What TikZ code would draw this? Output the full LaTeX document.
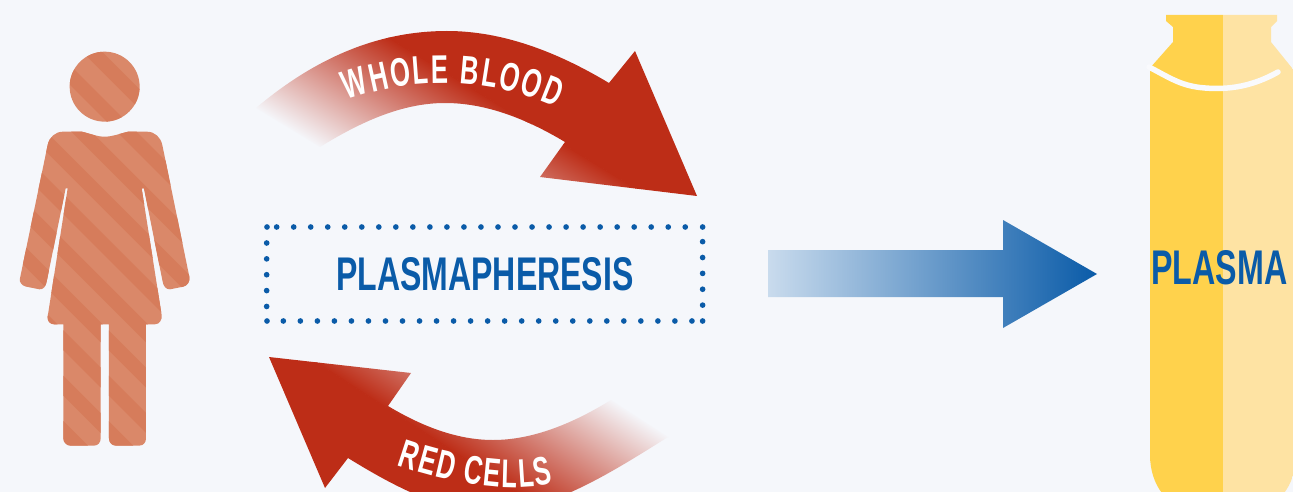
\documentclass[tikz,border=0pt]{standalone}
\usepackage{fontspec}
\usetikzlibrary{decorations.text}
\setmainfont{Liberation Sans}
\newfontfamily\condfont[FakeStretch=0.64]{Liberation Sans}
\definecolor{bgc}{HTML}{F5F7FB}
\definecolor{arrowred}{HTML}{BD2D17}
\definecolor{bluetxt}{HTML}{0A5BA8}
\definecolor{bluepale}{HTML}{C9DBED}
\definecolor{skinlight}{HTML}{DA8869}
\definecolor{skindark}{HTML}{D67C5B}
\definecolor{viald}{HTML}{FFD24C}
\definecolor{viall}{HTML}{FEE3A3}
\newcommand\toppath{(256,108) .. controls (320,54) and (383,31) .. (447,31) .. controls (501,31) and (555,50.6) .. (609,83) -- (635,51) -- (697,196) -- (540,177) -- (565,142) .. controls (525,118) and (485,103) .. (445,103) .. controls (403,103) and (362,121) .. (320,147) -- cycle}
\newcommand\botpath{(269,357) -- (411,373) -- (388,406) .. controls (423,427) and (458,440) .. (493,440) .. controls (532,440) and (572,424) .. (611,400) -- (668,437) .. controls (609,474) and (549,512) .. (490,512) .. controls (443,512) and (395,487) .. (348,458) -- (325,488) -- cycle}
\newcommand\personpath{(190,305) -- (245,305) .. controls (275,312) and (290,320) .. (314,320) .. controls (338,320) and (355,312) .. (385,305) -- (440,305) .. controls (465,305) and (482,322) .. (487,345) -- (568,740) .. controls (571,755) and (562,767) .. (550,770) -- (510,778) .. controls (498,779) and (490,768) .. (488,755) -- (432,475) -- (425,475) -- (485,855) .. controls (487,870) and (478,883) .. (465,883) -- (438,883) -- (438,1225) .. controls (438,1238) and (430,1247) .. (418,1247) -- (348,1247) .. controls (336,1247) and (327,1238) .. (327,1225) -- (327,883) -- (302,883) -- (302,1225) .. controls (302,1238) and (294,1247) .. (282,1247) -- (212,1247) .. controls (200,1247) and (190,1238) .. (190,1225) -- (190,883) -- (162,883) .. controls (150,883) and (141,872) .. (143,860) -- (203,475) -- (197,475) -- (140,755) .. controls (137,770) and (130,779) .. (118,778) -- (78,770) .. controls (66,767) and (57,757) .. (60,745) -- (143,345) .. controls (148,322) and (165,305) .. (190,305) -- cycle (314,170) circle [radius=105]}
\newcommand\vialpath{(1166,15) -- (1277,15) -- (1277,21) -- (1271,27) -- (1271,42) -- (1296,73) -- (1296,455) .. controls (1296,485) and (1278,510) .. (1250,510) -- (1196,510) .. controls (1168,510) and (1150,485) .. (1150,455) -- (1150,68) -- (1173,42) -- (1173,27) -- (1166,21) -- cycle}
\tikzset{
  diagramtext/.style={text=bluetxt,inner sep=0pt},
  curvedlabel/.style={decorate},
  dotmark/.style={fill=bluetxt,draw=none},
  redfade/.style={left color=bgc,middle color=arrowred!78!bgc,right color=arrowred}
}
\begin{document}
\begin{tikzpicture}[x=1pt,y=-1pt]
\useasboundingbox (0,0) rectangle (1293,492);
\clip (0,0) rectangle (1293,492);
\fill[bgc] (0,0) rectangle (1293,492);

% person
\begin{scope}[shift={(0,30)},x=0.3333pt,y=-0.3333pt]
  \begin{scope}
    \clip \personpath;
    \fill[skinlight] (0,0) rectangle (660,1290);
    \foreach \k in {-2,...,9}{
      \pgfmathsetmacro\cc{-75+136*\k}
      \fill[skindark] (-200,{-200+\cc-30}) -- (900,{900+\cc-30}) -- (900,{900+\cc+30}) -- (-200,{-200+\cc+30}) -- cycle;
    }
  \end{scope}
\end{scope}

% whole blood arrow
\begin{scope}
  \clip \toppath;
  \shade[transform canvas={shift={(288,128)},rotate=58.6},redfade] (-1,-600) rectangle (130,600);
  \fill[transform canvas={shift={(288,128)},rotate=58.6},arrowred] (129.5,-600) rectangle (700,600);
\end{scope}
\path[curvedlabel,decoration={text along path,text align=fit to path,text={|\fontsize{40}{40}\condfont\bfseries\color{white}|WHOLE BLOOD}}]
  (347,100) .. controls (415,76) and (490,78) .. (557,107);

% red cells arrow
\begin{scope}
  \clip \botpath;
  \shade[transform canvas={shift={(640,418)},rotate=237},redfade] (-1,-600) rectangle (130,600);
  \fill[transform canvas={shift={(640,418)},rotate=237},arrowred] (129.5,-600) rectangle (700,600);
\end{scope}
\path[curvedlabel,decoration={text along path,text align=fit to path,text={|\fontsize{40}{40}\condfont\bfseries\color{white}|RED CELLS}}]
  (397,465) .. controls (440,480) and (510,496) .. (553,483);

% dotted box
\begin{scope}[shift={(255,215)},x=0.3333pt,y=-0.3333pt]
  \foreach \k in {0,...,24}{
    \fill[dotmark] ({65+51.08*\k},36) circle[radius=8.5];
    \fill[dotmark] ({85+51.08*\k},318) circle[radius=8.5];
  }
  \foreach \k in {0,...,4}{
    \fill[dotmark] (35,{84+47.6*\k}) circle[radius=8.5];
    \fill[dotmark] (1343,{80+47.6*\k}) circle[radius=8.5];
  }
  \foreach \p/\q in {36/36,1343/36,36/318,1343/318}{
    \fill[dotmark] (\p,\q) circle[radius=8.5];
  }
\end{scope}
\node[diagramtext] (processlabel) at (485,274.5) {\resizebox{297pt}{33pt}{\bfseries PLASMAPHERESIS}};

% blue arrow
\shade[left color=bluepale,right color=bluetxt] (768,250) -- (1003,250) -- (1003,220) -- (1097,274) -- (1003,328) -- (1003,297) -- (768,297) -- cycle;

% vial
\begin{scope}
  \clip \vialpath;
  \fill[viald] (1140,0) rectangle (1223,515);
  \fill[viall] (1223,0) rectangle (1300,515);
\end{scope}
\draw[bgc!60!white,line width=5.5pt,line cap=round] (1149,67) .. controls (1170,78) and (1180,85) .. (1200,87.5) .. controls (1230,91) and (1255,85) .. (1278,72);
\node[diagramtext] (plasmalabel) at (1219.5,268) {\resizebox{136pt}{34pt}{\bfseries PLASMA}};
\end{tikzpicture}
\end{document}
